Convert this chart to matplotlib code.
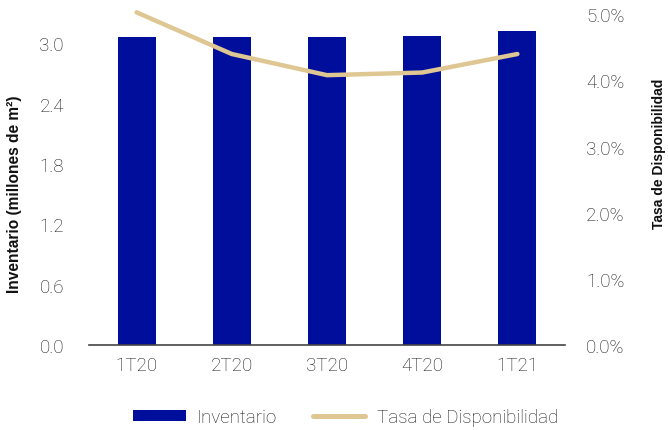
import matplotlib
matplotlib.use("Agg")
import matplotlib.pyplot as plt
from matplotlib.lines import Line2D
from matplotlib.patches import Patch

categories = ["1T20", "2T20", "3T20", "4T20", "1T21"]
inventario = [3.06, 3.06, 3.06, 3.07, 3.12]
tasa = [5.03, 4.40, 4.08, 4.12, 4.40]
left_ticks = [0.0, 0.6, 1.2, 1.8, 2.4, 3.0]
right_ticks = [0.0, 1.0, 2.0, 3.0, 4.0, 5.0]

BAR = "#000E9C"
LINE = "#DEC792"
TXT = "#1a1a1a"
FAM = "Roboto"
FW = "light"
FS = 13.5

W, H = 668, 431
fig = plt.figure(figsize=(W/100, H/100), dpi=100)
ax = fig.add_axes([89/W, 85/H, (565-89)/W, (346-14)/H])
ax2 = ax.twinx()

x = list(range(len(categories)))
ax.bar(x, inventario, width=0.4, color=BAR, zorder=2)
ax2.plot(x, tasa, color=LINE, lw=3.2, solid_capstyle="round", solid_joinstyle="round",
         zorder=3, clip_on=False)

ax.set_xlim(-0.5, 4.5)
ax.set_ylim(0, 3.3)
ax2.set_ylim(0, 5.02)
ax.set_yticks(left_ticks)
ax.set_yticklabels([f"{v:.1f}" for v in left_ticks])
ax2.set_yticks(right_ticks)
ax2.set_yticklabels([f"{v:.1f}%" for v in right_ticks])
ax.set_xticks(x)
ax.set_xticklabels(categories)

for a in (ax, ax2):
    for s in ["top", "left", "right", "bottom"]:
        a.spines[s].set_visible(False)
ax.spines["bottom"].set_visible(True)
ax.spines["bottom"].set_color("#444444")
ax.spines["bottom"].set_linewidth(1.2)

ax.tick_params(axis="y", length=0, pad=18, labelcolor=TXT)
ax.tick_params(axis="x", length=0, pad=8, labelcolor=TXT)
ax2.tick_params(axis="y", length=0, pad=15, labelcolor=TXT)
for lbl in ax.get_yticklabels() + ax.get_xticklabels() + ax2.get_yticklabels():
    lbl.set_fontfamily(FAM)
    lbl.set_fontweight(FW)
    lbl.set_fontsize(FS)

fig.text(15/W, 1 - 194/H, "Inventario (millones de m²)", rotation=90, ha="center", va="center",
         fontsize=11.2, fontweight="bold", family="Liberation Sans", color="#111111")
fig.text(659/W, 1 - 154/H, "Tasa de Disponibilidad", rotation=90, ha="center", va="center",
         fontsize=10, fontweight="bold", family="Liberation Sans", color="#111111")

handles = [Patch(facecolor=BAR, edgecolor="none"),
           Line2D([0], [0], color=LINE, lw=3.6, solid_capstyle="round")]
leg = fig.legend(handles, ["Inventario", "Tasa de Disponibilidad"], loc="center",
                 bbox_to_anchor=(345.5/W, 1 - 418/H), ncol=2, frameon=False,
                 prop=dict(family=FAM, weight=FW, size=FS),
                 handlelength=2.8, handleheight=0.55, columnspacing=1.9, handletextpad=0.6)
for t in leg.get_texts():
    t.set_color(TXT)

fig.savefig("out.png", dpi=100)
